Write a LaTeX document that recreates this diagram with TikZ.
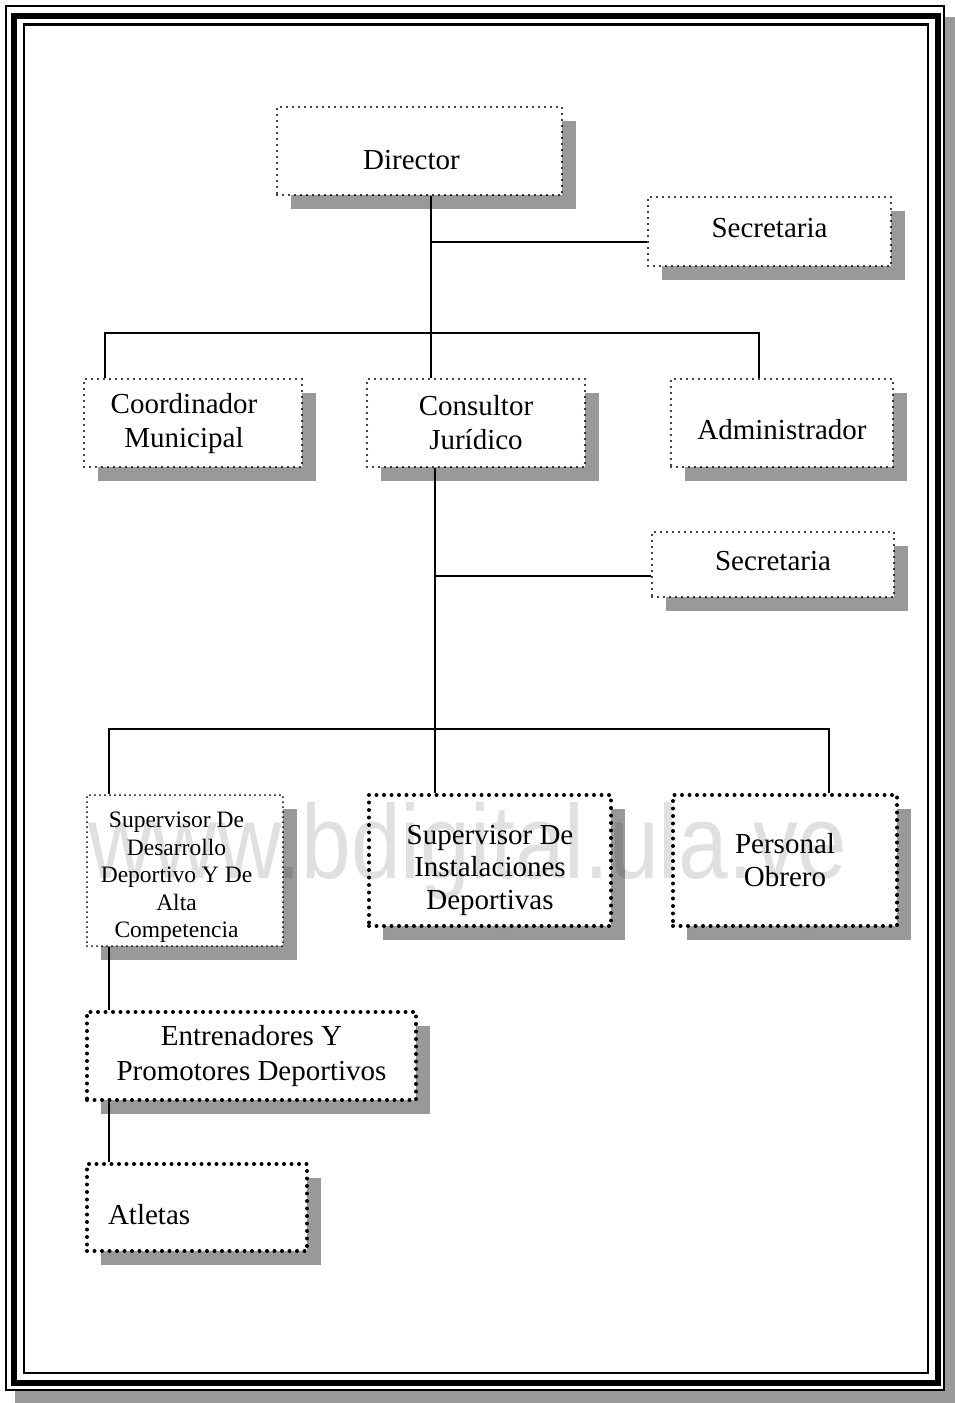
\documentclass[tikz,border=0pt]{standalone}
\usepackage{fontspec}
\setmainfont{Liberation Serif}
\newfontfamily\wmfont{Liberation Sans}
\usetikzlibrary{shadows}
% move a label inside its box: #1 = extra space on the right, #2 = vertical shift
\newcommand{\nudge}[3]{\raisebox{#2}[\height][\depth]{\begin{tabular}{@{}c@{}}#3\end{tabular}}\hspace*{#1}}

\begin{document}
\begin{tikzpicture}[x=1pt,y=-1pt,
    conn/.style={line width=1.8pt},
    box/.style={draw,fill=white,line width=2.4pt,line cap=round,
      dash pattern=on 0pt off 6pt,align=center,inner sep=0pt,
      font=\fontsize{29}{34}\selectfont,
      drop shadow={shadow xshift=14pt,shadow yshift=-14pt,fill=black!40,opacity=1}},
    thinbox/.style={box,line width=2pt,dash pattern=on 0pt off 5pt},
    boldbox/.style={box,line width=4pt,dash pattern=on 0pt off 7.5pt}]
  \useasboundingbox (0,0) rectangle (955,1403);
  % frame
  \fill[black!40] (15,17) rectangle (955,1403);
  \fill[white] (4,4) rectangle (945,1391);
  \draw[line width=2pt] (6,6) rectangle (944,1390);
  \draw[line width=6pt] (14,16) rectangle (937.5,1382.5);
  \draw[line width=2.5pt] (24,24.5) rectangle (928,1373);

  \node[box,minimum width=285pt,minimum height=88pt] (director) at (419.5,151) {\nudge{16pt}{-12pt}{Director}};
  \node[box,minimum width=243pt,minimum height=69pt] (secA) at (769.5,231.5) {\nudge{0pt}{1pt}{Secretaria}};
  \node[box,minimum width=218pt,minimum height=88pt] (coord) at (193,423) {\nudge{18pt}{-1pt}{Coordinador\\Municipal}};
  \node[box,minimum width=218pt,minimum height=88pt] (consultor) at (476,423) {Consultor\\Jurídico};
  \node[box,minimum width=222pt,minimum height=88pt] (admin) at (782,423) {\nudge{0pt}{-10pt}{Administrador}};
  \node[box,minimum width=242pt,minimum height=65pt] (secB) at (773,564.5) {\nudge{0pt}{0.5pt}{Secretaria}};
  \node[thinbox,minimum width=196pt,minimum height=151pt,font=\fontsize{23.5}{27.5}\selectfont]
    (supdes) at (185,870.5) {\nudge{17pt}{-6.5pt}{Supervisor De\\Desarrollo\\Deportivo Y De\\Alta\\Competencia}};
  \node[boldbox,minimum width=242pt,minimum height=131pt,font=\fontsize{29}{32.5}\selectfont]
    (supins) at (490,860.5) {\nudge{0pt}{-9.5pt}{Supervisor De\\Instalaciones\\Deportivas}};
  \node[boldbox,minimum width=224pt,minimum height=131pt,font=\fontsize{29}{33}\selectfont]
    (personal) at (785,860.5) {Personal\\Obrero};
  \node[boldbox,minimum width=329pt,minimum height=88pt,font=\fontsize{29}{35}\selectfont]
    (entren) at (251.5,1056) {Entrenadores Y\\Promotores Deportivos};
  \node[boldbox,minimum width=220pt,minimum height=87pt,text width=178pt,align=left,inner xsep=21pt]
    (atletas) at (197,1207.5) {\nudge{0pt}{-10.5pt}{Atletas}};

  % connectors
  \coordinate (spineA) at (431,0);
  \coordinate (spineB) at (435,0);
  \coordinate (legL) at (105,333);
  \coordinate (legR) at (759,333);
  \coordinate (legLL) at (109,729);
  \coordinate (legRR) at (829,729);
  \draw[conn] (director.south -| spineA) -- (consultor.north -| spineA);
  \draw[conn] ([yshift=-10.5pt]secA.west) -- ([yshift=-10.5pt]secA.west -| spineA);
  \draw[conn] (coord.north -| legL) -- (legL) -- (legR) -- (admin.north -| legR);
  \draw[conn] (consultor.south -| spineB) -- (supins.north -| spineB);
  \draw[conn] ([yshift=-11.5pt]secB.west) -- ([yshift=-11.5pt]secB.west -| spineB);
  \draw[conn] (supdes.north -| legLL) -- (legLL) -- (legRR) -- (personal.north -| legRR);
  \draw[conn] (supdes.south -| legLL) -- (entren.north -| legLL);
  \draw[conn] (entren.south -| legLL) -- (atletas.north -| legLL);

  % watermark
  \node[text opacity=0.12,anchor=base,inner sep=0pt,font=\wmfont\fontsize{105}{105}\selectfont]
    (mark) at (468,878) {\scalebox{0.85}[1]{www.bdigital.ula.ve}};
\end{tikzpicture}
\end{document}
